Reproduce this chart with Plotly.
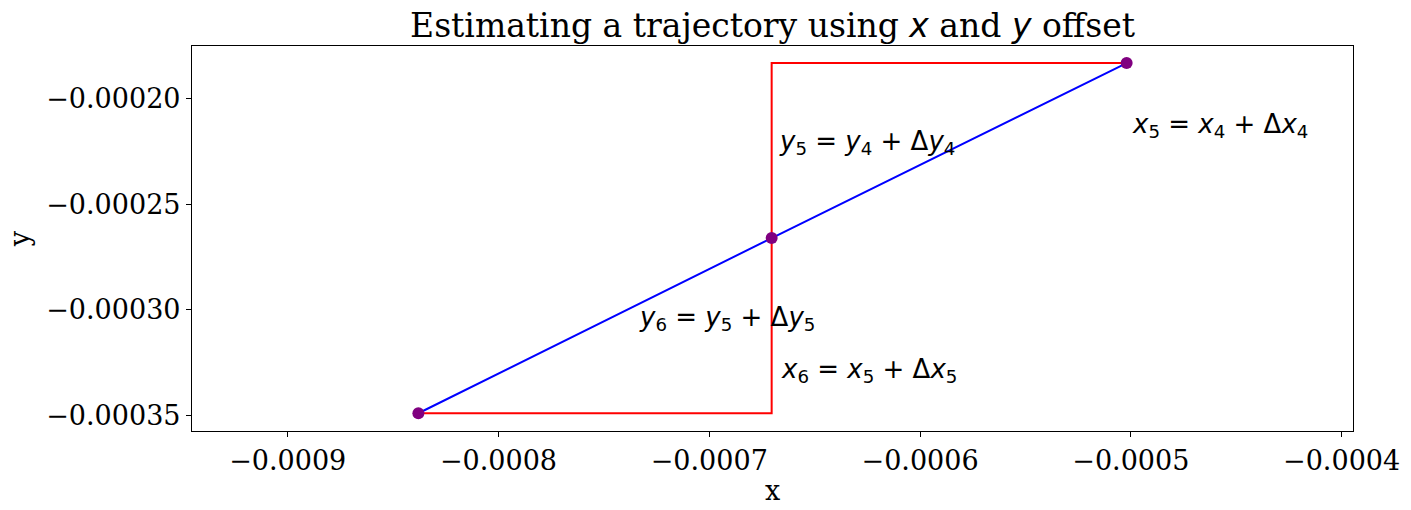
import plotly.graph_objects as go

# trajectory points
traj_x = [-0.000838, -0.0006704, -0.000502]
traj_y = [-0.000349, -0.000266, -0.0001831]

# x / y offset path (staircase)
path_x = [-0.000838, -0.0006704, -0.0006704, -0.000502]
path_y = [-0.000349, -0.000349, -0.0001831, -0.0001831]

# annotations
ann_text = [
    "<i>y</i><sub>5</sub> = <i>y</i><sub>4</sub> + Δ<i>y</i><sub>4</sub>",
    "<i>x</i><sub>5</sub> = <i>x</i><sub>4</sub> + Δ<i>x</i><sub>4</sub>",
    "<i>y</i><sub>6</sub> = <i>y</i><sub>5</sub> + Δ<i>y</i><sub>5</sub>",
    "<i>x</i><sub>6</sub> = <i>x</i><sub>5</sub> + Δ<i>x</i><sub>5</sub>",
]
ann_x = [-0.000668, -0.0005005, -0.0007345, -0.000667]
ann_y = [-0.0002209, -0.0002128, -0.0003043, -0.0003289]

x_tickvals = [-0.0009, -0.0008, -0.0007, -0.0006, -0.0005, -0.0004]
x_ticktext = ["−0.0009", "−0.0008", "−0.0007", "−0.0006", "−0.0005", "−0.0004"]
y_tickvals = [-0.00020, -0.00025, -0.00030, -0.00035]
y_ticktext = ["−0.00020", "−0.00025", "−0.00030", "−0.00035"]

x_range = [-0.0009454, -0.0003946]
y_range = [-0.0003574, -0.000175]

SERIF = "DejaVu Serif"
SANS = "DejaVu Sans"

fig = go.Figure()
fig.add_trace(go.Scatter(x=path_x, y=path_y, mode="lines",
                         line=dict(color="#ff0000", width=2), showlegend=False))
fig.add_trace(go.Scatter(x=traj_x, y=traj_y, mode="lines",
                         line=dict(color="#0000ff", width=2), showlegend=False))
fig.add_trace(go.Scatter(x=traj_x, y=traj_y, mode="markers",
                         marker=dict(color="#800080", size=12), showlegend=False))

for t, ax_, ay_ in zip(ann_text, ann_x, ann_y):
    fig.add_annotation(x=ax_, y=ay_, text=t, showarrow=False,
                       xanchor="left", yanchor="middle",
                       font=dict(family=SANS, size=26, color="black"))

fig.update_layout(
    width=1411, height=510,
    margin=dict(l=191.5, r=57.7, t=46.3, b=79, pad=0),
    paper_bgcolor="white", plot_bgcolor="white",
    font=dict(family=SERIF, size=27, color="black"),
    title=dict(
        text='Estimating a trajectory using <span style="font-family:DejaVu Sans"><i>x</i></span> and <span style="font-family:DejaVu Sans"><i>y</i></span> offset',
        x=0.5, xref="paper", xanchor="center",
        y=1 - 25 / 510, yref="container", yanchor="middle",
        font=dict(family=SERIF, size=33, color="black"),
    ),
    xaxis=dict(
        range=x_range, tickvals=x_tickvals, ticktext=x_ticktext,
        showgrid=False, zeroline=False, showline=True, mirror=True,
        linecolor="black", linewidth=1.2, ticks="outside", ticklen=5,
        tickwidth=1.1, tickcolor="black",
        tickfont=dict(family=SERIF, size=27),
        title=dict(text="x", font=dict(family=SERIF, size=27), standoff=0),
    ),
    yaxis=dict(
        range=y_range, tickvals=y_tickvals, ticktext=y_ticktext,
        showgrid=False, zeroline=False, showline=True, mirror=True,
        linecolor="black", linewidth=1.2, ticks="outside", ticklen=5,
        tickwidth=1.1, tickcolor="black",
        tickfont=dict(family=SERIF, size=27),
        title=dict(text="y", font=dict(family=SERIF, size=27), standoff=8),
    ),
)

fig.write_html("out.html")
